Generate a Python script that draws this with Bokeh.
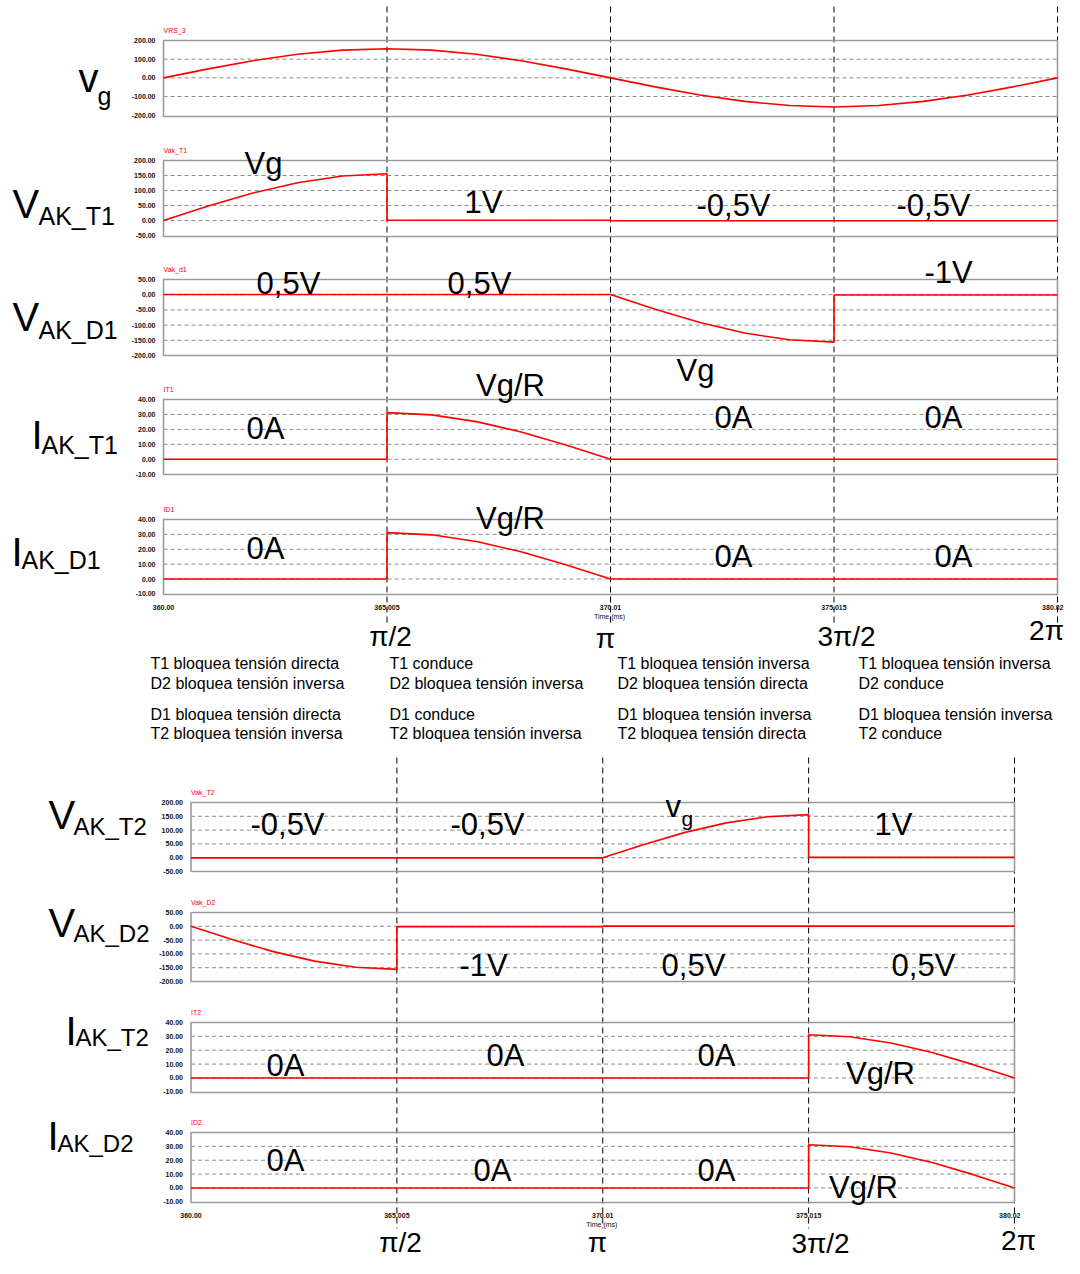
from bokeh.plotting import figure
from bokeh.models import Range1d
from bokeh.embed import file_html
from bokeh.resources import INLINE
from bokeh.core.properties import value

# ---------------- data ----------------
time_ticks = [360.00, 365.005, 370.01, 375.015, 380.02]
time_tick_labels = ["360.00", "365.005", "370.01", "375.015", "380.02"]

vg_t = [360.000, 361.001, 362.002, 363.003, 364.004, 365.005, 366.006, 367.007, 368.008, 369.009, 370.010,
        371.011, 372.012, 373.013, 374.014, 375.015, 376.016, 377.017, 378.018, 379.019, 380.020]
vg_v = [0.0, 48.2, 91.7, 126.2, 148.4, 156.0, 148.4, 126.2, 91.7, 48.2, 0.0,
        -48.2, -91.7, -126.2, -148.4, -156.0, -148.4, -126.2, -91.7, -48.2, 0.0]

vak_t1_t = [360.000, 361.001, 362.002, 363.003, 364.004, 365.005, 365.005, 370.01, 370.01, 380.02]
vak_t1_v = [0.0, 48.2, 91.7, 126.2, 148.4, 156.0, 1.0, 1.0, -0.5, -0.5]

vak_d1_t = [360.0, 370.010, 371.011, 372.012, 373.013, 374.014, 375.015, 375.015, 380.02]
vak_d1_v = [0.5, 0.5, -48.2, -91.7, -126.2, -148.4, -156.0, -1.0, -1.0]

it1_t = [360.0, 365.005, 365.005, 366.006, 367.007, 368.008, 369.009, 370.010, 380.02]
it1_v = [0.0, 0.0, 31.2, 29.7, 25.2, 18.3, 9.6, 0.0, 0.0]

id1_t = [360.0, 365.005, 365.005, 366.006, 367.007, 368.008, 369.009, 370.010, 380.02]
id1_v = [0.0, 0.0, 31.2, 29.7, 25.2, 18.3, 9.6, 0.0, 0.0]

vak_t2_t = [360.0, 370.010, 371.011, 372.012, 373.013, 374.014, 375.015, 375.015, 380.02]
vak_t2_v = [-0.5, -0.5, 48.2, 91.7, 126.2, 148.4, 156.0, 1.0, 1.0]

vak_d2_t = [360.000, 361.001, 362.002, 363.003, 364.004, 365.005, 365.005, 370.01, 370.01, 380.02]
vak_d2_v = [0.0, -48.2, -91.7, -126.2, -148.4, -156.0, -1.0, -1.0, 0.5, 0.5]

it2_t = [360.0, 375.015, 375.015, 376.016, 377.017, 378.018, 379.019, 380.020]
it2_v = [0.0, 0.0, 31.2, 29.7, 25.2, 18.3, 9.6, 0.0]

id2_t = [360.0, 375.015, 375.015, 376.016, 377.017, 378.018, 379.019, 380.020]
id2_v = [0.0, 0.0, 31.2, 29.7, 25.2, 18.3, 9.6, 0.0]

ticks_vg = [200, 100, 0, -100, -200]
ticks_vt = [200, 150, 100, 50, 0, -50]
ticks_vd = [50, 0, -50, -100, -150, -200]
ticks_i = [40, 30, 20, 10, 0, -10]

# ---------------- layout ----------------
FONT = value("Liberation Sans")
W, H = 1064, 1258
PX0, PX1, PY0, PY1 = 0, W, 0, H
T0, T1 = time_ticks[0], time_ticks[-1]
GROUPS = {"tt": (163, 1057), "tb": (190.5, 1014)}
RED = "#ff0000"

panels = [
    dict(key="p1", g="tt", name="VRS_3", box=(40, 116), vals=(200, -207), ticks=ticks_vg, t=vg_t, v=vg_v),
    dict(key="p2", g="tt", name="Vak_T1", box=(160, 236), vals=(200, -53), ticks=ticks_vt, t=vak_t1_t, v=vak_t1_v),
    dict(key="p3", g="tt", name="Vak_d1", box=(279, 355), vals=(50, -200), ticks=ticks_vd, t=vak_d1_t, v=vak_d1_v),
    dict(key="p4", g="tt", name="IT1", box=(399, 474), vals=(40, -10.2), ticks=ticks_i, t=it1_t, v=it1_v),
    dict(key="p5", g="tt", name="ID1", box=(519, 594), vals=(40, -10.4), ticks=ticks_i, t=id1_t, v=id1_v, xt=True),
    dict(key="p6", g="tb", name="Vak_T2", box=(802, 871), vals=(200, -50), ticks=ticks_vt, t=vak_t2_t, v=vak_t2_v),
    dict(key="p7", g="tb", name="Vak_D2", box=(912, 981), vals=(50, -200), ticks=ticks_vd, t=vak_d2_t, v=vak_d2_v),
    dict(key="p8", g="tb", name="IT2", box=(1022, 1092), vals=(40, -10.5), ticks=ticks_i, t=it2_t, v=it2_v),
    dict(key="p9", g="tb", name="ID2", box=(1132, 1202), vals=(40, -10.5), ticks=ticks_i, t=id2_t, v=id2_v, xt=True),
]

p = figure(width=W, height=H, x_range=Range1d(PX0, PX1), y_range=Range1d(PY1, PY0),
           output_backend="svg", toolbar_location=None, min_border=0,
           x_axis_location=None, y_axis_location=None, outline_line_color=None)
p.grid.visible = False

for g, (x0, x1) in GROUPS.items():
    tpp = (T1 - T0) / (x1 - x0)
    p.extra_x_ranges[g] = Range1d(T0 - (x0 - PX0) * tpp, T1 + (PX1 - x1) * tpp)

for pn in panels:
    top, bot = pn["box"]
    vt, vb = pn["vals"]
    vpp = (vt - vb) / (bot - top)
    p.extra_y_ranges[pn["key"]] = Range1d(vb - (PY1 - bot) * vpp, vt + (top - PY0) * vpp)

# vertical dashed markers
p.segment(x0=time_ticks[1:], x1=time_ticks[1:], y0=[6] * 4, y1=[625] * 4, x_range_name="tt",
          line_color="black", line_width=1, line_dash="6 4")
p.segment(x0=time_ticks[1:], x1=time_ticks[1:], y0=[757] * 4, y1=[1228] * 4, x_range_name="tb",
          line_color="black", line_width=1, line_dash="6 4")

for pn in panels:
    kw = dict(x_range_name=pn["g"], y_range_name=pn["key"])
    vt, vb = pn["vals"]
    inner = pn["ticks"][1:-1]
    p.segment(x0=[T0] * len(inner), x1=[T1] * len(inner), y0=inner, y1=inner,
              line_color="#8c8c8c", line_width=1, line_dash="4 3", **kw)
    p.quad(left=[T0], right=[T1], top=[vt], bottom=[vb], fill_color=None,
           line_color="#9a9a9a", line_width=1.6, **kw)
    p.line(pn["t"], pn["v"], line_color=RED, line_width=1.6, **kw)
    p.text(x=[T0] * len(pn["ticks"]), y=pn["ticks"], text=[f"{v:.2f}" for v in pn["ticks"]],
           text_align="right", text_baseline="middle", x_offset=-8, text_font=FONT,
           text_font_size="7px", text_font_style="bold", text_color="#111111", **kw)
    p.text(x=[T0], y=[vt], text=[pn["name"]], text_align="left", text_baseline="middle",
           y_offset=-10, text_font=FONT, text_font_size="7px", text_color=RED, **kw)
    if pn.get("xt"):
        p.text(x=time_ticks[:-1], y=[vb] * 4, text=time_tick_labels[:-1], text_align="center",
               text_baseline="middle", y_offset=13, text_font=FONT, text_font_size="7px",
               text_font_style="bold", text_color="#111111", **kw)
        p.text(x=time_ticks[-1:], y=[vb], text=time_tick_labels[-1:], text_align="right",
               text_baseline="middle", x_offset=6, y_offset=13, text_font=FONT, text_font_size="7px",
               text_font_style="bold", text_color="#111111", **kw)
        p.text(x=[time_ticks[2]], y=[vb], text=["Time  (ms)"], text_align="center",
               text_baseline="middle", y_offset=22, text_font=FONT, text_font_size="7px",
               text_color="#111111", **kw)

# big left labels with subscripts: (x_main, y_main, main, sub, x_sub, y_sub, sub_size)
side_labels = [
    (78, 77, "v", "g", 97, 95, "25px"),
    (12, 203, "V", "AK_T1", 38, 215, "25px"),
    (12, 316, "V", "AK_D1", 38, 329, "25px"),
    (31, 434, "I", "AK_T1", 41, 444, "25px"),
    (11, 551, "I", "AK_D1", 21, 559, "25px"),
    (48, 814, "V", "AK_T2", 73, 826, "24px"),
    (48, 922, "V", "AK_D2", 73, 933, "24px"),
    (65, 1030, "I", "AK_T2", 75, 1037, "24px"),
    (47, 1135, "I", "AK_D2", 57, 1143, "24px"),
]
p.text(x=[s[0] for s in side_labels], y=[s[1] for s in side_labels], text=[s[2] for s in side_labels],
       text_align="left", text_baseline="middle", text_font=FONT, text_font_size="40px", text_color="black")
for s in side_labels:
    p.text(x=[s[4]], y=[s[5]], text=[s[3]], text_align="left", text_baseline="middle",
           text_font=FONT, text_font_size=s[6], text_color="black")

# in-panel annotations
annots = [
    (263, 163, "Vg"), (483, 202, "1V"), (733, 205, "-0,5V"), (933, 205, "-0,5V"),
    (288, 283, "0,5V"), (479, 283, "0,5V"), (948, 272, "-1V"), (695, 370, "Vg"),
    (510, 385, "Vg/R"), (265, 428, "0A"), (733, 417, "0A"), (943, 417, "0A"),
    (510, 518, "Vg/R"), (265, 548, "0A"), (733, 556, "0A"), (953, 556, "0A"),
    (287, 824, "-0,5V"), (487, 824, "-0,5V"), (893, 824, "1V"),
    (483, 965, "-1V"), (693, 965, "0,5V"), (923, 965, "0,5V"),
    (285, 1065, "0A"), (505, 1055, "0A"), (716, 1055, "0A"), (880, 1073, "Vg/R"),
    (285, 1160, "0A"), (492, 1170, "0A"), (716, 1170, "0A"), (863, 1187, "Vg/R"),
]
p.text(x=[a[0] for a in annots], y=[a[1] for a in annots], text=[a[2] for a in annots],
       text_align="center", text_baseline="middle", text_font=FONT, text_font_size="31px", text_color="black")
p.text(x=[665], y=[806], text=["v"], text_align="left", text_baseline="middle",
       text_font=FONT, text_font_size="31px", text_color="black")
p.text(x=[681], y=[818], text=["g"], text_align="left", text_baseline="middle",
       text_font=FONT, text_font_size="21px", text_color="black")

# angle labels
angles = [(390, 636, "π/2"), (605, 638, "π"), (846, 636, "3π/2"), (1046, 630, "2π"),
          (400, 1242, "π/2"), (597, 1242, "π"), (820, 1243, "3π/2"), (1018, 1240, "2π")]
p.text(x=[a[0] for a in angles], y=[a[1] for a in angles], text=[a[2] for a in angles],
       text_align="center", text_baseline="middle", text_font=FONT, text_font_size="28px", text_color="black")

# state description rows
col_x = [150, 389, 617, 858]
row_y = [663, 683, 714, 733]
states = [
    ["T1 bloquea tensión directa", "D2 bloquea tensión inversa", "D1 bloquea tensión directa", "T2 bloquea tensión inversa"],
    ["T1 conduce", "D2 bloquea tensión inversa", "D1 conduce", "T2 bloquea tensión inversa"],
    ["T1 bloquea tensión inversa", "D2 bloquea tensión directa", "D1 bloquea tensión inversa", "T2 bloquea tensión directa"],
    ["T1 bloquea tensión inversa", "D2 conduce", "D1 bloquea tensión inversa", "T2  conduce"],
]
sx, sy, st = [], [], []
for ci, col in enumerate(states):
    for ri, line in enumerate(col):
        sx.append(col_x[ci]); sy.append(row_y[ri]); st.append(line)
p.text(x=sx, y=sy, text=st, text_align="left", text_baseline="middle", text_font=FONT,
       text_font_size="16px", text_color="black")

open("out.html", "w").write(file_html(p, INLINE))
